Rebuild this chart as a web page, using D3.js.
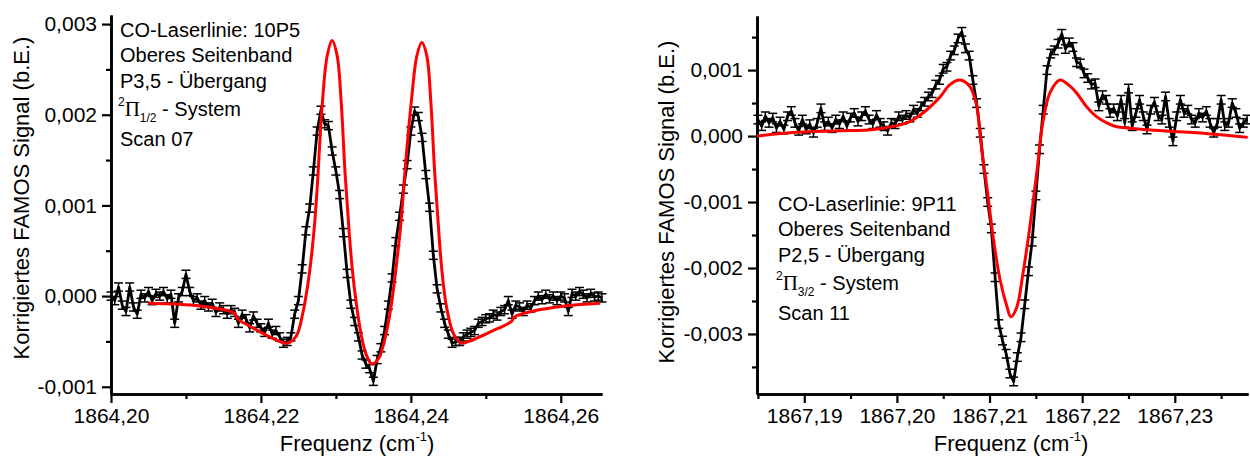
<!DOCTYPE html>
<html>
<head>
<meta charset="utf-8">
<script src="https://cdn.jsdelivr.net/npm/d3@7"></script>
<style>
body { margin: 0; background: #fff; }
text { font-family: "Liberation Sans", Arial, sans-serif; fill: #000; }
</style>
</head>
<body>
<svg id="chart" width="1250" height="459"></svg>
<script>
// Scan 07 (10P5) - signal in 10^-3 b.E., uniform scan grid
var scan07Start = 1864.2000
var scan07Step = 0.0005
var sig07 = [0.0,-0.05,0.1,-0.1,-0.17,0.1,-0.12,-0.2,0.02,-0.02,
    0.05,-0.05,0.03,0.0,0.05,-0.03,0.02,-0.3,-0.02,0.05,
    0.24,0.05,-0.05,-0.02,-0.1,-0.05,-0.12,-0.08,-0.18,-0.12,
    -0.15,-0.2,-0.15,-0.18,-0.3,-0.2,-0.25,-0.35,-0.22,-0.3,
    -0.35,-0.4,-0.3,-0.42,-0.38,-0.45,-0.52,-0.5,-0.45,-0.2,
    -0.05,0.3,0.72,0.97,1.38,1.82,2.05,1.9,1.88,1.6,
    1.38,1.12,0.7,0.25,-0.09,-0.28,-0.45,-0.65,-0.75,-0.8,
    -0.94,-0.7,-0.57,-0.38,-0.1,0.2,0.6,0.88,1.18,1.45,
    1.82,2.04,1.98,1.75,1.34,0.98,0.45,0.08,-0.13,-0.3,
    -0.42,-0.52,-0.5,-0.5,-0.45,-0.42,-0.4,-0.38,-0.3,-0.28,
    -0.25,-0.24,-0.2,-0.22,-0.17,-0.15,-0.05,-0.2,-0.1,-0.12,
    -0.17,-0.1,-0.13,-0.05,0.0,-0.04,0.02,-0.03,0.0,-0.05,
    0.0,-0.02,-0.17,0.03,0.0,0.05,0.02,-0.02,0.03,-0.01,
    0.0,-0.02]
var err07 = 0.045
var fit07F = [1864.20492,1864.21183,1864.21648,1864.21688,1864.21847,1864.22047,1864.22246,1864.22352,1864.22472,1864.22551,
    1864.22645,1864.22711,1864.22751,1864.22817,1864.22884,1864.2295,1864.23017,1864.2307,1864.23123,1864.23176,
    1864.23216,1864.23269,1864.23336,1864.23402,1864.23482,1864.23575,1864.23668,1864.23734,1864.23801,1864.23867,
    1864.23934,1864.24013,1864.2408,1864.24146,1864.24213,1864.24266,1864.24319,1864.24372,1864.24412,1864.24478,
    1864.24571,1864.24678,1864.24771,1864.24864,1864.25076,1864.25342,1864.25382,1864.25608,1864.2606,1864.26525]
var fit07 = [-0.08,-0.11,-0.19,-0.25,-0.33,-0.42,-0.5,-0.52,-0.44,-0.22,
    0.24,0.75,1.2,2.1,2.65,2.82,2.65,2.15,1.35,0.72,
    0.32,-0.06,-0.42,-0.64,-0.75,-0.68,-0.42,-0.13,0.3,0.8,
    1.5,2.2,2.65,2.8,2.65,2.15,1.35,0.72,0.3,-0.13,
    -0.42,-0.52,-0.5,-0.47,-0.39,-0.28,-0.23,-0.17,-0.11,-0.08]
var xTicks07 = [1864.20, 1864.22, 1864.24, 1864.26]
var xMinor07 = [1864.21, 1864.23, 1864.25]
var yTicks07 = [-1, 0, 1, 2, 3]
var yMinor07 = [-0.5, 0.5, 1.5, 2.5]
var note07 = ['CO-Laserlinie: 10P5', 'Oberes Seitenband', 'P3,5 - Übergang', '1/2', 'Scan 07']

// Scan 11 (9P11)
var scan11Start = 1867.1850
var scan11Step = 0.0004
var sig11 = [0.25,0.15,0.3,0.2,0.28,0.12,0.22,0.1,0.3,0.38,
    0.2,0.08,0.25,0.1,0.18,0.05,0.2,0.42,0.15,0.22,
    0.12,0.25,0.18,0.3,0.15,0.28,0.35,0.22,0.3,0.38,
    0.25,0.18,0.32,0.2,0.15,0.08,0.2,0.18,0.3,0.25,
    0.32,0.28,0.4,0.35,0.45,0.52,0.6,0.65,0.78,0.85,
    1.02,1.05,1.22,1.3,1.48,1.58,1.33,1.22,0.85,0.5,
    0.05,-0.5,-1.0,-1.4,-2.14,-2.85,-3.1,-3.3,-3.6,-3.72,
    -3.35,-3.05,-2.55,-2.05,-1.6,-0.9,-0.2,0.4,1.0,1.25,
    1.3,1.4,1.55,1.32,1.42,1.35,1.12,1.1,0.95,0.88,
    0.78,0.8,0.45,0.62,0.55,0.35,0.42,0.3,0.55,0.2,
    0.72,0.15,0.35,0.55,0.3,0.1,0.4,0.52,0.3,0.25,
    0.6,0.2,-0.08,0.3,0.55,0.35,0.4,0.25,0.2,0.35,
    0.28,0.38,0.2,0.05,0.2,0.55,0.15,0.2,0.5,0.35,
    0.12,0.2,0.25]
var err11 = 0.065
var fit11F = [1867.1849,1867.18846,1867.19385,1867.19741,1867.20108,1867.20281,1867.20464,1867.20572,1867.2068,1867.20788,
    1867.20863,1867.20896,1867.20928,1867.20971,1867.21036,1867.21111,1867.21187,1867.2123,1867.21295,1867.21359,
    1867.21435,1867.2151,1867.21575,1867.21651,1867.21759,1867.21866,1867.21942,1867.2205,1867.22158,1867.22266,
    1867.22373,1867.22514,1867.2287,1867.23236,1867.23787]
var fit11 = [0.0,0.05,0.08,0.1,0.2,0.35,0.59,0.78,0.85,0.75,
    0.45,0.05,-0.35,-0.77,-1.5,-2.16,-2.58,-2.74,-2.59,-2.1,
    -1.38,-0.55,0.2,0.65,0.85,0.76,0.65,0.44,0.29,0.2,
    0.14,0.12,0.08,0.05,-0.02]
var xTicks11 = [1867.19, 1867.20, 1867.21, 1867.22, 1867.23]
var xMinor11 = [1867.185, 1867.195, 1867.205, 1867.215, 1867.225, 1867.235]
var yTicks11 = [-3, -2, -1, 0, 1]
var yMinor11 = [-3.5, -2.5, -1.5, -0.5, 0.5, 1.5]
var note11 = ['CO-Laserlinie: 9P11', 'Oberes Seitenband', 'P2,5 - Übergang', '3/2', 'Scan 11']

var de = d3.formatLocale({decimal: ',', thousands: '.', grouping: [3], currency: ['', ''], minus: '-'})

var svg = d3.select('#chart')

function drawPanel(p) {
    var freq = p.sig.map(function (d, i) { return p.start + i * p.step })
    var xscale = d3.scaleLinear().domain(p.xDomain).range([p.left, p.right])
    var yscale = d3.scaleLinear().domain(p.yDomain).range([p.bottom, p.top])
    var g = svg.append('g')

    // minor ticks first, then major axis on top
    g.append('g').attr('transform', 'translate(0,' + p.bottom + ')')
        .call(d3.axisBottom(xscale).tickValues(p.xMinor).tickSize(5).tickFormat('').tickSizeOuter(0))
    g.append('g').attr('transform', 'translate(' + p.left + ',0)')
        .call(d3.axisLeft(yscale).tickValues(p.yMinor).tickSize(5).tickFormat('').tickSizeOuter(0))
    g.append('g').attr('transform', 'translate(0,' + p.bottom + ')')
        .call(d3.axisBottom(xscale).tickValues(p.xTicks).tickSize(9).tickPadding(5)
            .tickSizeOuter(0).tickFormat(de.format('.2f')))
    g.append('g').attr('transform', 'translate(' + p.left + ',0)')
        .call(d3.axisLeft(yscale).tickValues(p.yTicks).tickSize(9).tickPadding(5)
            .tickSizeOuter(0).tickFormat(function (d) { return de.format('.3f')(d / 1000) }))
    g.selectAll('.domain').attr('stroke-width', 2.6)
    g.selectAll('.tick line').attr('stroke-width', 2.2)
    g.selectAll('.tick text').attr('font-size', 21).attr('font-family', '"Liberation Sans", Arial, sans-serif')

    var line = d3.line().x(function (d, i) { return xscale(freq[i]) }).y(function (d) { return yscale(d) })
    g.append('path').datum(p.sig).attr('d', line).attr('fill', 'none')
        .attr('stroke', '#000').attr('stroke-width', 2.8).attr('stroke-linejoin', 'round')

    var bars = g.append('g').attr('stroke', '#000').attr('stroke-width', 1.5)
    p.sig.forEach(function (d, i) {
        var cx = xscale(freq[i])
        var y1 = yscale(d + p.err), y2 = yscale(d - p.err)
        bars.append('line').attr('x1', cx).attr('x2', cx).attr('y1', y1).attr('y2', y2)
        bars.append('line').attr('x1', cx - 4.5).attr('x2', cx + 4.5).attr('y1', y1).attr('y2', y1)
        bars.append('line').attr('x1', cx - 4.5).attr('x2', cx + 4.5).attr('y1', y2).attr('y2', y2)
    })

    var fitLine = d3.line().curve(d3.curveCatmullRom.alpha(0.5))
        .x(function (d, i) { return xscale(p.fitF[i]) }).y(function (d) { return yscale(d) })
    g.append('path').datum(p.fit).attr('d', fitLine).attr('fill', 'none')
        .attr('stroke', '#ff0000').attr('stroke-width', 3)

    // annotation block
    var nt = g.append('g').attr('font-size', 20)
    var base = p.noteY
    nt.append('text').attr('x', p.noteX).attr('y', base).text(p.note[0])
    nt.append('text').attr('x', p.noteX).attr('y', base + 25).text(p.note[1])
    nt.append('text').attr('x', p.noteX).attr('y', base + 50.5).text(p.note[2])
    var t = nt.append('text').attr('x', p.noteX - 2).attr('y', base + 78.5)
    t.append('tspan').attr('font-size', 12).attr('dy', -10).text('2')
    t.append('tspan').attr('font-family', '"Liberation Serif", "Times New Roman", serif').attr('font-size', 21).attr('dy', 10).text('Π')
    t.append('tspan').attr('font-size', 12).attr('dy', 6).text(p.note[3])
    t.append('tspan').attr('dy', -6).text(' - System')
    nt.append('text').attr('x', p.noteX).attr('y', base + 109).text(p.note[4])

    // axis titles
    g.append('text').attr('transform', 'translate(' + p.yTitleX + ',' + p.yTitleY + ') rotate(-90)')
        .attr('text-anchor', 'middle').attr('font-size', 22).text('Korrigiertes FAMOS Signal (b.E.)')
    var xt = g.append('text').attr('x', p.xTitleX).attr('y', 451).attr('text-anchor', 'middle').attr('font-size', 22)
    xt.append('tspan').text('Frequenz (cm')
    xt.append('tspan').attr('font-size', 13).attr('dy', -10).text('-1')
    xt.append('tspan').attr('dy', 10).text(')')
}

drawPanel({
    sig: sig07, start: scan07Start, step: scan07Step, err: err07,
    fitF: fit07F, fit: fit07,
    xDomain: [1864.2, 1864.2655], yDomain: [-1.08, 3.1],
    left: 111, right: 602, top: 15, bottom: 394,
    xTicks: xTicks07, xMinor: xMinor07, yTicks: yTicks07, yMinor: yMinor07,
    note: note07, noteX: 120, noteY: 37,
    yTitleX: 29, yTitleY: 198, xTitleX: 357
})

drawPanel({
    sig: sig11, start: scan11Start, step: scan11Step, err: err11,
    fitF: fit11F, fit: fit11,
    xDomain: [1867.1849, 1867.2379], yDomain: [-3.91, 1.82],
    left: 757, right: 1248, top: 16, bottom: 394,
    xTicks: xTicks11, xMinor: xMinor11, yTicks: yTicks11, yMinor: yMinor11,
    note: note11, noteX: 778, noteY: 211,
    yTitleX: 674, yTitleY: 202, xTitleX: 1011
})
</script>
</body>
</html>
